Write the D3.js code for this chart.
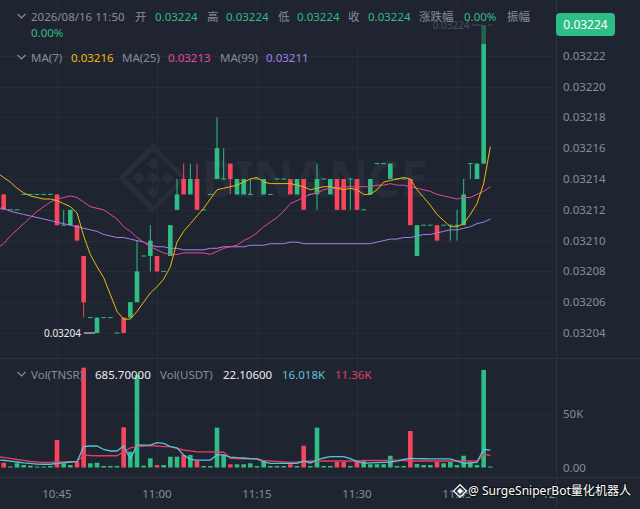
<!DOCTYPE html>
<html lang="zh">

<head>
    <meta charset="UTF-8">
    <title>TNSR/USDT 1m</title>
    <script src="https://d3js.org/d3.v7.min.js"></script>
    <style>
        body {
            margin: 0;
            padding: 0;
            background: #1f2530;
            overflow: hidden;
        }

        #vis {
            display: block;
            font-family: "Noto Sans", "Noto Sans CJK SC", sans-serif;
        }
    </style>
</head>

<body>
    <svg id="vis" width="640" height="509"></svg>
    <script>
        // 1 minute candles, first slot is 10:36 (off screen, no candle drawn)
        const START = new Date(2026, 7, 16, 10, 36);

        const opens = [null,
            0.03213, 0.03212, 0.03212, 0.03213, 0.03213, 0.03213, 0.03213, 0.03213, 0.03213, 0.03211,
            0.03211, 0.03211, 0.03209, 0.03205, 0.03204, 0.03205, 0.03205, 0.03204, 0.03205, 0.03205,
            0.03206, 0.03209, 0.03209, 0.03209, 0.03208, 0.03209, 0.03212, 0.03214, 0.03213, 0.03214,
            0.03212, 0.03213, 0.03214, 0.03214, 0.03215, 0.03213, 0.03213, 0.03213, 0.03214, 0.03213,
            0.03213, 0.03214, 0.03214, 0.03214, 0.03213, 0.03214, 0.03213, 0.03213, 0.03214, 0.03213,
            0.03214, 0.03214, 0.03214, 0.03214, 0.03212, 0.03213, 0.03215, 0.03215, 0.03214, 0.03214,
            0.03214, 0.03214, 0.03209, 0.03211, 0.03211, 0.03211, 0.03211, 0.03211, 0.03211, 0.03211,
            0.03215, 0.03214, 0.03215, 0.03224];
        const highs = [null,
            0.03213, 0.03212, 0.03212, 0.03213, 0.03213, 0.03213, 0.03213, 0.03213, 0.03213, 0.03212,
            0.03212, 0.03211, 0.03209, 0.03205, 0.03205, 0.03205, 0.03205, 0.03204, 0.03205, 0.03206,
            0.03210, 0.03209, 0.03211, 0.03209, 0.03208, 0.03211, 0.03214, 0.03215, 0.03215, 0.03215,
            0.03212, 0.03213, 0.03218, 0.03216, 0.03215, 0.03214, 0.03214, 0.03214, 0.03214, 0.03214,
            0.03213, 0.03214, 0.03214, 0.03214, 0.03214, 0.03214, 0.03213, 0.03215, 0.03214, 0.03214,
            0.03214, 0.03214, 0.03214, 0.03214, 0.03212, 0.03214, 0.03215, 0.03215, 0.03215, 0.03214,
            0.03214, 0.03214, 0.03211, 0.03211, 0.03211, 0.03211, 0.03211, 0.03211, 0.03212, 0.03214,
            0.03215, 0.03215, 0.03224, 0.03224];
        const lows = [null,
            0.03212, 0.03212, 0.03212, 0.03213, 0.03213, 0.03213, 0.03213, 0.03213, 0.03211, 0.03211,
            0.03211, 0.03210, 0.03205, 0.03205, 0.03204, 0.03205, 0.03205, 0.03204, 0.03204, 0.03205,
            0.03206, 0.03209, 0.03208, 0.03208, 0.03208, 0.03209, 0.03212, 0.03213, 0.03213, 0.03212,
            0.03212, 0.03213, 0.03214, 0.03214, 0.03213, 0.03213, 0.03213, 0.03213, 0.03214, 0.03213,
            0.03213, 0.03214, 0.03214, 0.03213, 0.03213, 0.03212, 0.03213, 0.03212, 0.03214, 0.03213,
            0.03212, 0.03212, 0.03212, 0.03212, 0.03212, 0.03213, 0.03215, 0.03215, 0.03214, 0.03214,
            0.03214, 0.03211, 0.03209, 0.03211, 0.03211, 0.03210, 0.03211, 0.03210, 0.03210, 0.03211,
            0.03214, 0.03214, 0.03215, 0.03224];
        const closes = [null,
            0.03212, 0.03212, 0.03212, 0.03213, 0.03213, 0.03213, 0.03213, 0.03213, 0.03211, 0.03211,
            0.03212, 0.03210, 0.03206, 0.03205, 0.03205, 0.03205, 0.03205, 0.03204, 0.03204, 0.03206,
            0.03208, 0.03209, 0.03210, 0.03208, 0.03208, 0.03211, 0.03213, 0.03213, 0.03214, 0.03212,
            0.03212, 0.03213, 0.03216, 0.03214, 0.03214, 0.03214, 0.03214, 0.03213, 0.03214, 0.03214,
            0.03213, 0.03214, 0.03214, 0.03213, 0.03214, 0.03212, 0.03213, 0.03214, 0.03214, 0.03214,
            0.03212, 0.03212, 0.03214, 0.03212, 0.03212, 0.03214, 0.03215, 0.03215, 0.03215, 0.03214,
            0.03214, 0.03211, 0.03211, 0.03211, 0.03211, 0.03210, 0.03211, 0.03211, 0.03211, 0.03213,
            0.03215, 0.03215, 0.03224, 0.03224];

        // volume in thousands of TNSR
        const volumes = [null,
            4.4, 0.8, 3.9, 2.3, 1.7, 0.8, 0.8, 1.4, 25.5, 3.9,
            2.3, 5.4, 92.4, 3.9, 4.4, 1.4, 1.4, 1.4, 37.2, 14.6,
            85.6, 1.7, 8.5, 2.3, 2.3, 10.0, 10.0, 11.6, 11.6, 6.0,
            1.4, 1.4, 36.9, 11.6, 3.0, 3.0, 3.0, 3.9, 1.4, 6.0,
            1.4, 1.4, 1.4, 3.0, 1.4, 20.2, 1.4, 36.9, 1.4, 1.4,
            5.1, 5.1, 1.4, 6.0, 6.9, 3.0, 3.0, 3.0, 10.9, 1.4,
            1.4, 33.8, 3.2, 2.3, 2.3, 5.1, 3.9, 5.1, 2.3, 10.9,
            5.1, 2.3, 90.3, 0.6857];

        const ma7 = [
            0.032144, 0.032141, 0.032138, 0.032134, 0.032131, 0.032129, 0.032128, 0.032127, 0.032127, 0.032126,
            0.032124, 0.032122, 0.032118, 0.032103, 0.032091, 0.032083, 0.032076, 0.032065, 0.032054, 0.032049,
            0.032049, 0.032054, 0.032060, 0.032066, 0.032070, 0.032075, 0.032083, 0.032099, 0.032106, 0.032111,
            0.032116, 0.032121, 0.032127, 0.032133, 0.032134, 0.032135, 0.032136, 0.032138, 0.032140, 0.032141,
            0.032138, 0.032137, 0.032137, 0.032137, 0.032137, 0.032136, 0.032135, 0.032133, 0.032134, 0.032135,
            0.032135, 0.032134, 0.032133, 0.032134, 0.032133, 0.032130, 0.032130, 0.032133, 0.032138, 0.032139,
            0.032140, 0.032141, 0.032140, 0.032133, 0.032128, 0.032123, 0.032117, 0.032113, 0.032109, 0.032109,
            0.032111, 0.032117, 0.032124, 0.032137, 0.032161];
        const ma25 = [
            0.032095, 0.032098, 0.032103, 0.032107, 0.032111, 0.032115, 0.032119, 0.032122, 0.032125, 0.032127,
            0.032128, 0.032129, 0.032128, 0.032125, 0.032122, 0.032121, 0.032120, 0.032117, 0.032114, 0.032109,
            0.032106, 0.032102, 0.032099, 0.032096, 0.032094, 0.032092, 0.032091, 0.032091, 0.032092, 0.032092,
            0.032092, 0.032092, 0.032091, 0.032093, 0.032095, 0.032096, 0.032097, 0.032100, 0.032102, 0.032105,
            0.032109, 0.032112, 0.032115, 0.032119, 0.032124, 0.032126, 0.032128, 0.032130, 0.032131, 0.032133,
            0.032134, 0.032134, 0.032135, 0.032135, 0.032135, 0.032135, 0.032135, 0.032136, 0.032136, 0.032137,
            0.032136, 0.032136, 0.032135, 0.032134, 0.032133, 0.032132, 0.032130, 0.032129, 0.032128, 0.032127,
            0.032128, 0.032128, 0.032130, 0.032132, 0.032135];
        const ma99 = [
            0.032121, 0.032121, 0.032119, 0.032118, 0.032117, 0.032116, 0.032115, 0.032114, 0.032113, 0.032112,
            0.032111, 0.032110, 0.032109, 0.032108, 0.032107, 0.032106, 0.032104, 0.032103, 0.032102, 0.032102,
            0.032101, 0.032100, 0.032099, 0.032097, 0.032096, 0.032096, 0.032095, 0.032095, 0.032094, 0.032094,
            0.032094, 0.032094, 0.032095, 0.032095, 0.032096, 0.032096, 0.032096, 0.032096, 0.032097, 0.032097,
            0.032097, 0.032098, 0.032098, 0.032098, 0.032099, 0.032099, 0.032098, 0.032098, 0.032098, 0.032098,
            0.032098, 0.032098, 0.032098, 0.032098, 0.032098, 0.032098, 0.032098, 0.032099, 0.032100, 0.032101,
            0.032101, 0.032102, 0.032102, 0.032103, 0.032104, 0.032104, 0.032105, 0.032106, 0.032107, 0.032107,
            0.032108, 0.032109, 0.032111, 0.032112, 0.032114];

        const volMa5 = [
            6.9, 6.7, 6.0, 5.1, 4.2, 3.9, 3.2, 3.0, 3.0, 3.9,
            4.2, 5.1, 5.4, 19.3, 19.9, 19.9, 16.7, 15.3, 15.3, 19.9,
            7.9, 20.8, 20.8, 20.8, 23.1, 22.4, 19.4, 18.3, 11.6, 7.4,
            6.9, 6.9, 6.9, 11.6, 11.6, 9.7, 9.1, 8.8, 8.3, 7.9,
            5.1, 3.9, 3.9, 3.9, 3.9, 3.9, 6.0, 4.2, 6.9, 8.8,
            10.0, 10.0, 10.0, 8.3, 5.6, 3.9, 4.2, 4.6, 4.8, 5.1,
            6.0, 7.4, 8.5, 8.3, 8.1, 7.9, 7.9, 7.9, 7.9, 6.0,
            3.9, 4.2, 4.8, 16.9, 16.018];
        const volMa10 = [
            10.0, 9.4, 8.5, 7.4, 6.5, 5.7, 5.1, 4.8, 4.8, 5.1,
            5.1, 5.4, 5.4, 11.6, 11.1, 10.9, 10.9, 10.9, 10.9, 14.6,
            18.1, 19.4, 19.9, 20.2, 19.9, 19.4, 19.3, 17.6, 16.2, 15.3,
            14.6, 14.4, 14.4, 14.1, 14.1, 8.5, 8.3, 8.1, 7.9, 7.9,
            6.5, 6.0, 5.6, 5.1, 4.8, 5.1, 5.6, 6.0, 5.6, 6.0,
            6.0, 6.0, 6.0, 6.0, 6.0, 6.5, 6.5, 6.5, 6.5, 6.9,
            6.9, 6.5, 6.0, 6.0, 6.0, 6.0, 6.0, 6.0, 6.0, 6.0,
            6.0, 6.0, 6.0, 12.2, 11.36];

        const priceTicks = [0.03204, 0.03206, 0.03208, 0.03210, 0.03212, 0.03214, 0.03216, 0.03218, 0.03220, 0.03222];
        const volTicks = [0, 50];
        const volTickLabels = ["0.00", "50K"];

        const lastPrice = 0.03224;
        const highMark = { i: 73, price: 0.03224 };
        const lowMark = { i: 15, price: 0.03204 };

        const UP = "#2ebd85", DOWN = "#f6465d";
        const GRAY = "#848e9c", WHITE = "#eaecef";
        const BG = "#1f2530", GRID = "#262d38", BORDER = "#2c333e";
        const C_MA7 = "#f0b90b", C_MA25 = "#e8469b", C_MA99 = "#a77ef0";
        const C_VMA5 = "#5cc2d8", C_VMA10 = "#e33d62";

        const W = 640, H = 509;
        const PLOT_R = 556, PRICE_BOT = 358, VOL_BOT = 477;
        const BODY_W = 4.6;

        const svg = d3.select("#vis");

        function draw(candles) {
            const x = d3.scaleTime()
                .domain([new Date(2026, 7, 16, 10, 45), new Date(2026, 7, 16, 11, 45)])
                .range([57, 457]);
            const y = d3.scaleLinear()
                .domain([0.03204, 0.03222])
                .range([333, 55.8]);
            const yv = d3.scaleLinear()
                .domain([0, 50])
                .range([467.5, 413.5]);

            svg.append("rect").attr("width", W).attr("height", H).attr("fill", BG);

            const defs = svg.append("defs");
            defs.append("clipPath").attr("id", "clipPrice")
                .append("rect").attr("x", 0).attr("y", 0).attr("width", PLOT_R).attr("height", PRICE_BOT);
            defs.append("clipPath").attr("id", "clipVol")
                .append("rect").attr("x", 0).attr("y", PRICE_BOT).attr("width", PLOT_R).attr("height", VOL_BOT - PRICE_BOT);
            defs.append("clipPath").attr("id", "clipTime")
                .append("rect").attr("x", 0).attr("y", VOL_BOT).attr("width", PLOT_R - 1).attr("height", H - VOL_BOT);

            // grid
            const timeTicks = x.ticks(d3.timeMinute.every(15))
                .concat([new Date(2026, 7, 16, 12, 0)])
                .filter(t => x(t) > 0);
            const grid = svg.append("g").attr("stroke", GRID).attr("stroke-width", 1);
            grid.selectAll("line.v").data(timeTicks).join("line")
                .attr("x1", d => Math.round(x(d)) + 0.5).attr("x2", d => Math.round(x(d)) + 0.5)
                .attr("y1", 0).attr("y2", VOL_BOT)
                .filter(d => x(d) > PLOT_R - 2).remove();
            grid.selectAll("line.h").data(priceTicks).join("line")
                .attr("x1", 0).attr("x2", PLOT_R)
                .attr("y1", d => Math.round(y(d)) + 0.5).attr("y2", d => Math.round(y(d)) + 0.5);
            grid.append("line")
                .attr("x1", 0).attr("x2", PLOT_R)
                .attr("y1", Math.round(yv(50)) + 0.5).attr("y2", Math.round(yv(50)) + 0.5);

            // panel borders
            const border = svg.append("g").attr("stroke", BORDER).attr("stroke-width", 1);
            border.append("line").attr("x1", 0).attr("x2", W).attr("y1", PRICE_BOT + 0.5).attr("y2", PRICE_BOT + 0.5);
            border.append("line").attr("x1", 0).attr("x2", W).attr("y1", VOL_BOT + 0.5).attr("y2", VOL_BOT + 0.5);
            border.append("line").attr("x1", PLOT_R + 0.5).attr("x2", PLOT_R + 0.5).attr("y1", 0).attr("y2", H);

            // watermark
            const wm = svg.append("g").attr("fill", "#272e3a");
            const logo = wm.append("g").attr("transform", "translate(153,178) rotate(45)");
            [[-7, -7], [7, -7], [-7, 7], [7, 7]].forEach(([a, b]) => {
                logo.append("rect").attr("x", a * 1.45 - 4.5).attr("y", b * 1.45 - 4.5).attr("width", 9).attr("height", 9);
            });
            logo.append("rect").attr("x", -4.5).attr("y", -4.5).attr("width", 9).attr("height", 9);
            logo.append("rect").attr("x", -22).attr("y", -22).attr("width", 44).attr("height", 44)
                .attr("fill", "none").attr("stroke", "#272e3a").attr("stroke-width", 5);
            wm.append("text")
                .attr("x", 202).attr("y", 197)
                .attr("font-size", 51).attr("font-weight", 700)
                .attr("textLength", 226).attr("lengthAdjust", "spacingAndGlyphs")
                .text("BINANCE");

            // price panel
            const pricePanel = svg.append("g").attr("clip-path", "url(#clipPrice)");
            const color = d => d.c >= d.o ? UP : DOWN;

            pricePanel.append("g").selectAll("line").data(candles).join("line")
                .attr("x1", d => x(d.t)).attr("x2", d => x(d.t))
                .attr("y1", d => y(d.h)).attr("y2", d => y(d.l))
                .attr("stroke", color).attr("stroke-width", 1);
            pricePanel.append("g").selectAll("rect").data(candles).join("rect")
                .attr("x", d => x(d.t) - BODY_W / 2)
                .attr("y", d => Math.min(y(d.o), y(d.c)) - (d.o === d.c ? 0.5 : 0))
                .attr("width", BODY_W)
                .attr("height", d => Math.max(1, Math.abs(y(d.o) - y(d.c))))
                .attr("fill", color);

            const line = d3.line().x(d => x(d.t)).y(d => y(d.v));
            [[ma99, C_MA99], [ma25, C_MA25], [ma7, C_MA7]].forEach(([arr, c]) => {
                pricePanel.append("path")
                    .datum(arr.map((v, i) => ({ t: d3.timeMinute.offset(START, i), v })))
                    .attr("d", line)
                    .attr("fill", "none").attr("stroke", c).attr("stroke-width", 1);
            });

            // high / low markers
            const hx = x(d3.timeMinute.offset(START, highMark.i));
            pricePanel.append("line").attr("x1", hx - 12).attr("x2", hx - 2)
                .attr("y1", y(highMark.price)).attr("y2", y(highMark.price))
                .attr("stroke", GRAY);
            pricePanel.append("text").attr("x", hx - 14).attr("y", y(highMark.price)).attr("dy", "0.35em")
                .attr("text-anchor", "end").attr("font-size", 10).attr("fill", GRAY)
                .text(highMark.price.toFixed(5));
            const lx = x(d3.timeMinute.offset(START, lowMark.i));
            pricePanel.append("line").attr("x1", lx - 13).attr("x2", lx - 2)
                .attr("y1", y(lowMark.price)).attr("y2", y(lowMark.price))
                .attr("stroke", WHITE);
            pricePanel.append("text").attr("x", lx - 16).attr("y", y(lowMark.price)).attr("dy", "0.35em")
                .attr("text-anchor", "end").attr("font-size", 10).attr("fill", WHITE)
                .text(lowMark.price.toFixed(5));

            // legend backdrop over the top of the plot
            svg.append("rect").attr("x", 12).attr("y", 4).attr("width", 528).attr("height", 40)
                .attr("fill", BG).attr("opacity", 0.6);

            // volume panel
            const volPanel = svg.append("g").attr("clip-path", "url(#clipVol)");
            volPanel.append("g").selectAll("rect").data(candles).join("rect")
                .attr("x", d => x(d.t) - BODY_W / 2)
                .attr("y", d => Math.min(yv(d.v), yv(0) - 1))
                .attr("width", BODY_W)
                .attr("height", d => Math.max(1, yv(0) - yv(d.v)))
                .attr("fill", color);
            const vline = d3.line().x(d => x(d.t)).y(d => yv(d.v));
            [[volMa10, C_VMA10], [volMa5, C_VMA5]].forEach(([arr, c]) => {
                volPanel.append("path")
                    .datum(arr.map((v, i) => ({ t: d3.timeMinute.offset(START, i), v })))
                    .attr("d", vline)
                    .attr("fill", "none").attr("stroke", c).attr("stroke-width", 1.3);
            });

            // axes text
            const axisText = svg.append("g").attr("font-size", 11.5).attr("fill", GRAY);
            axisText.selectAll("text.p").data(priceTicks).join("text")
                .attr("x", 563).attr("y", d => y(d)).attr("dy", "0.35em")
                .text(d => d.toFixed(5));
            axisText.selectAll("text.v").data(volTicks).join("text")
                .attr("x", 563).attr("y", d => yv(d)).attr("dy", "0.35em")
                .text((d, i) => volTickLabels[i]);
            svg.append("g").attr("clip-path", "url(#clipTime)")
                .attr("font-size", 11.5).attr("fill", GRAY)
                .selectAll("text").data(timeTicks).join("text")
                .attr("x", d => x(d)).attr("y", 498).attr("text-anchor", "middle")
                .text(d3.timeFormat("%H:%M"));

            // last price tag
            svg.append("rect").attr("x", 556).attr("y", 13).attr("width", 59).attr("height", 23).attr("rx", 4)
                .attr("fill", UP);
            svg.append("text").attr("x", 585.5).attr("y", 24.5).attr("dy", "0.35em")
                .attr("text-anchor", "middle").attr("font-size", 12).attr("fill", "#ffffff")
                .text(lastPrice.toFixed(5));

            // legends
            const chevron = (cy) => svg.append("path")
                .attr("d", `M17.5,${cy - 2} L21.5,${cy + 2} L25.5,${cy - 2}`)
                .attr("fill", "none").attr("stroke", GRAY).attr("stroke-width", 1.2);
            const label = (px, py, txt, fill) => svg.append("text")
                .attr("x", px).attr("y", py).attr("dy", "0.35em")
                .attr("font-size", 11.5).attr("fill", fill).text(txt);

            chevron(16);
            const head = [
                [31, "2026/08/16 11:50", GRAY], [135, "开", GRAY], [155, "0.03224", UP],
                [207, "高", GRAY], [226, "0.03224", UP], [278, "低", GRAY], [297, "0.03224", UP],
                [348, "收", GRAY], [368, "0.03224", UP], [419, "涨跌幅", GRAY], [464, "0.00%", UP],
                [507, "振幅", GRAY]
            ];
            head.forEach(([px, t, c]) => label(px, 17, t, c));
            label(31, 33, "0.00%", UP);

            chevron(57);
            [[31, "MA(7)", GRAY], [71, ma7[ma7.length - 1].toFixed(5), C_MA7],
            [122, "MA(25)", GRAY], [168, ma25[ma25.length - 1].toFixed(5), C_MA25],
            [220, "MA(99)", GRAY], [266, ma99[ma99.length - 1].toFixed(5), C_MA99]]
                .forEach(([px, t, c]) => label(px, 58, t, c));

            chevron(374);
            [[31, "Vol(TNSR)", GRAY], [95, "685.70000", WHITE], [160, "Vol(USDT)", GRAY],
            [223, "22.10600", WHITE], [282, volMa5[volMa5.length - 1].toFixed(3) + "K", C_VMA5],
            [335, volMa10[volMa10.length - 1].toFixed(2) + "K", C_VMA10]]
                .forEach(([px, t, c]) => label(px, 375, t, c));

            // bottom-right credit
            const credit = svg.append("g");
            const icon = credit.append("g").attr("transform", "translate(460,491) rotate(45)")
                .attr("fill", "none").attr("stroke", "#ffffff").attr("stroke-width", 1.2);
            icon.append("rect").attr("x", -4.5).attr("y", -4.5).attr("width", 9).attr("height", 9);
            icon.append("rect").attr("x", -1.5).attr("y", -1.5).attr("width", 3).attr("height", 3).attr("fill", "#ffffff");
            credit.append("text")
                .attr("x", 468).attr("y", 491).attr("dy", "0.35em")
                .attr("font-size", 12.5).attr("fill", "#ffffff")
                .attr("textLength", 163).attr("lengthAdjust", "spacingAndGlyphs")
                .attr("stroke", "#11151b").attr("stroke-width", 2.5).attr("paint-order", "stroke")
                .text("@ SurgeSniperBot量化机器人");
        }

        const candles = opens.map((o, i) => ({
            t: d3.timeMinute.offset(START, i),
            o: o, h: highs[i], l: lows[i], c: closes[i], v: volumes[i]
        })).filter(d => d.o !== null);

        draw(candles);
    </script>
</body>

</html>
